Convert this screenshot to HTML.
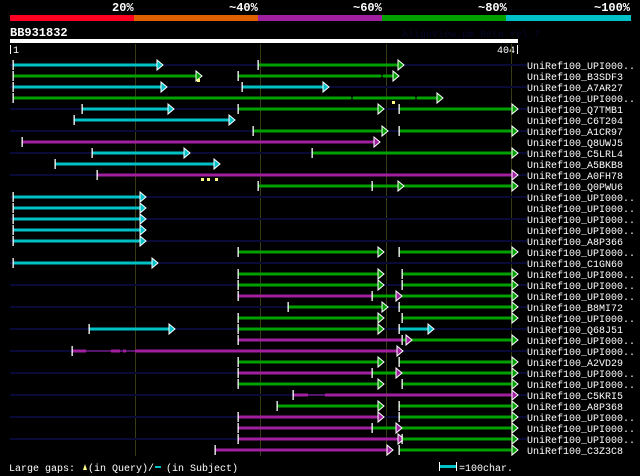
<!DOCTYPE html>
<html><head><meta charset="utf-8"><style>
html,body{margin:0;padding:0;background:#000;width:640px;height:476px;overflow:hidden}
svg{display:block}
text{font-family:"Liberation Mono","DejaVu Sans Mono",monospace}
</style></head><body>
<svg width="640" height="476" viewBox="0 0 640 476">
<defs>
<path id="ar" d="M0,-5L6,0L0,5Z" stroke="#fff" stroke-width="1"/>
<rect id="t" x="-0.5" y="-5" width="1.3" height="10" fill="#fff"/>
<rect id="n" x="10" y="-1" width="517" height="2" fill="#0a0a38"/>
</defs>
<rect width="640" height="476" fill="#000"/>
<g font-size="12" font-weight="bold" fill="#fff">
<text x="112" y="11">20%</text><text x="229" y="11">~40%</text><text x="353" y="11">~60%</text><text x="478" y="11">~80%</text><text x="594" y="11">~100%</text>
</g>
<rect x="10" y="15" width="124" height="6" fill="#ff0020"/>
<rect x="134" y="15" width="124" height="6" fill="#e06000"/>
<rect x="258" y="15" width="124" height="6" fill="#a020a0"/>
<rect x="382" y="15" width="124" height="6" fill="#00a000"/>
<rect x="506" y="15" width="125" height="6" fill="#00c0c8"/>
<text x="10" y="36" font-size="12" font-weight="bold" fill="#fff">BB931832</text>
<text x="402" y="37" font-size="10" fill="#06062a">AlignView.pm Beta rel.7</text>
<rect x="10" y="39" width="508" height="4" fill="#fff"/>
<rect x="10" y="45" width="1" height="9" fill="#fff"/>
<text x="13" y="53" font-size="10" fill="#fff">1</text>
<text x="497" y="53" font-size="10" fill="#fff">404</text>
<rect x="517" y="45" width="1" height="9" fill="#fff"/>
<g fill="#3a3a10"><rect x="135" y="44" width="1" height="412"/><rect x="260" y="44" width="1" height="412"/><rect x="386" y="44" width="1" height="412"/><rect x="511" y="44" width="1" height="412"/></g>

<g transform="translate(0,65)"><use href="#n"/><rect x="13" y="-1.5" width="144" height="3" fill="#00c0c8"/><use href="#t" x="13"/><use href="#ar" x="157" fill="#00c0c8"/><rect x="258" y="-1.5" width="140" height="3" fill="#00a000"/><use href="#t" x="258"/><use href="#ar" x="398" fill="#00a000"/></g>
<g transform="translate(0,76)"><rect x="13" y="-1.5" width="183" height="3" fill="#00a000"/><use href="#t" x="13"/><use href="#ar" x="196" fill="#00a000"/><rect x="197" y="3" width="3" height="3" fill="#ff8"/><rect x="238" y="-1.5" width="143" height="3" fill="#00a000"/><rect x="381" y="-0.5" width="2" height="1" fill="#00a000"/><rect x="383" y="-1.5" width="11" height="3" fill="#00a000"/><use href="#t" x="238"/><use href="#ar" x="393" fill="#00a000"/></g>
<g transform="translate(0,87)"><use href="#n"/><rect x="13" y="-1.5" width="148" height="3" fill="#00c0c8"/><use href="#t" x="13"/><use href="#ar" x="161" fill="#00c0c8"/><rect x="242" y="-1.5" width="81" height="3" fill="#00c0c8"/><use href="#t" x="242"/><use href="#ar" x="323" fill="#00c0c8"/></g>
<g transform="translate(0,98)"><rect x="13" y="-1.5" width="338" height="3" fill="#00a000"/><rect x="351" y="-0.5" width="2" height="1" fill="#00a000"/><rect x="353" y="-1.5" width="62" height="3" fill="#00a000"/><rect x="415" y="-0.5" width="2" height="1" fill="#00a000"/><rect x="417" y="-1.5" width="20" height="3" fill="#00a000"/><use href="#t" x="13"/><use href="#ar" x="437" fill="#00a000"/><rect x="392" y="3" width="3" height="3" fill="#ff8"/></g>
<g transform="translate(0,109)"><use href="#n"/><rect x="82" y="-1.5" width="86" height="3" fill="#00c0c8"/><use href="#t" x="82"/><use href="#ar" x="168" fill="#00c0c8"/><rect x="238" y="-1.5" width="140" height="3" fill="#00a000"/><use href="#t" x="238"/><use href="#ar" x="378" fill="#00a000"/><rect x="399" y="-1.5" width="113" height="3" fill="#00a000"/><use href="#t" x="399"/><use href="#ar" x="512" fill="#00a000"/></g>
<g transform="translate(0,120)"><rect x="74" y="-1.5" width="155" height="3" fill="#00c0c8"/><use href="#t" x="74"/><use href="#ar" x="229" fill="#00c0c8"/></g>
<g transform="translate(0,131)"><use href="#n"/><rect x="253" y="-1.5" width="129" height="3" fill="#00a000"/><use href="#t" x="253"/><use href="#ar" x="382" fill="#00a000"/><rect x="399" y="-1.5" width="113" height="3" fill="#00a000"/><use href="#t" x="399"/><use href="#ar" x="512" fill="#00a000"/></g>
<g transform="translate(0,142)"><rect x="22" y="-1.5" width="352" height="3" fill="#a020a0"/><use href="#t" x="22"/><use href="#ar" x="374" fill="#a020a0"/></g>
<g transform="translate(0,153)"><use href="#n"/><rect x="92" y="-1.5" width="92" height="3" fill="#00c0c8"/><use href="#t" x="92"/><use href="#ar" x="184" fill="#00c0c8"/><rect x="312" y="-1.5" width="200" height="3" fill="#00a000"/><use href="#t" x="312"/><use href="#ar" x="512" fill="#00a000"/></g>
<g transform="translate(0,164)"><rect x="55" y="-1.5" width="159" height="3" fill="#00c0c8"/><use href="#t" x="55"/><use href="#ar" x="214" fill="#00c0c8"/></g>
<g transform="translate(0,175)"><use href="#n"/><rect x="97" y="-1.5" width="415" height="3" fill="#a020a0"/><use href="#t" x="97"/><use href="#ar" x="512" fill="#a020a0"/><g fill="#ff8"><rect x="201" y="3" width="3" height="3"/><rect x="207" y="3" width="3" height="3"/><rect x="215" y="3" width="3" height="3"/></g></g>
<g transform="translate(0,186)"><rect x="258" y="-1.5" width="254" height="3" fill="#00a000"/><use href="#t" x="258"/><use href="#t" x="372"/><use href="#ar" x="398" fill="#00a000"/><use href="#ar" x="512" fill="#00a000"/></g>
<g transform="translate(0,197)"><use href="#n"/><rect x="13" y="-1.5" width="127" height="3" fill="#00c0c8"/><use href="#t" x="13"/><use href="#ar" x="140" fill="#00c0c8"/></g>
<g transform="translate(0,208)"><rect x="13" y="-1.5" width="127" height="3" fill="#00c0c8"/><use href="#t" x="13"/><use href="#ar" x="140" fill="#00c0c8"/></g>
<g transform="translate(0,219)"><use href="#n"/><rect x="13" y="-1.5" width="127" height="3" fill="#00c0c8"/><use href="#t" x="13"/><use href="#ar" x="140" fill="#00c0c8"/></g>
<g transform="translate(0,230)"><rect x="13" y="-1.5" width="127" height="3" fill="#00c0c8"/><use href="#t" x="13"/><use href="#ar" x="140" fill="#00c0c8"/></g>
<g transform="translate(0,241)"><use href="#n"/><rect x="13" y="-1.5" width="127" height="3" fill="#00c0c8"/><use href="#t" x="13"/><use href="#ar" x="140" fill="#00c0c8"/></g>
<g transform="translate(0,252)"><rect x="238" y="-1.5" width="140" height="3" fill="#00a000"/><use href="#t" x="238"/><use href="#ar" x="378" fill="#00a000"/><rect x="399" y="-1.5" width="113" height="3" fill="#00a000"/><use href="#t" x="399"/><use href="#ar" x="512" fill="#00a000"/></g>
<g transform="translate(0,263)"><use href="#n"/><rect x="13" y="-1.5" width="139" height="3" fill="#00c0c8"/><use href="#t" x="13"/><use href="#ar" x="152" fill="#00c0c8"/></g>
<g transform="translate(0,274)"><rect x="238" y="-1.5" width="140" height="3" fill="#00a000"/><use href="#t" x="238"/><use href="#ar" x="378" fill="#00a000"/><rect x="402" y="-1.5" width="110" height="3" fill="#00a000"/><use href="#t" x="402"/><use href="#ar" x="512" fill="#00a000"/></g>
<g transform="translate(0,285)"><use href="#n"/><rect x="238" y="-1.5" width="140" height="3" fill="#00a000"/><use href="#t" x="238"/><use href="#ar" x="378" fill="#00a000"/><rect x="402" y="-1.5" width="110" height="3" fill="#00a000"/><use href="#t" x="402"/><use href="#ar" x="512" fill="#00a000"/></g>
<g transform="translate(0,296)"><rect x="238" y="-1.5" width="134" height="3" fill="#a020a0"/><use href="#t" x="238"/><rect x="372" y="-1.5" width="140" height="3" fill="#00a000"/><use href="#t" x="372"/><use href="#ar" x="396" fill="#a020a0"/><use href="#ar" x="512" fill="#00a000"/></g>
<g transform="translate(0,307)"><use href="#n"/><rect x="288" y="-1.5" width="94" height="3" fill="#00a000"/><use href="#t" x="288"/><use href="#ar" x="382" fill="#00a000"/><rect x="399" y="-1.5" width="113" height="3" fill="#00a000"/><use href="#t" x="399"/><use href="#ar" x="512" fill="#00a000"/></g>
<g transform="translate(0,318)"><rect x="238" y="-1.5" width="140" height="3" fill="#00a000"/><use href="#t" x="238"/><use href="#ar" x="378" fill="#00a000"/><rect x="402" y="-1.5" width="110" height="3" fill="#00a000"/><use href="#t" x="402"/><use href="#ar" x="512" fill="#00a000"/></g>
<g transform="translate(0,329)"><use href="#n"/><rect x="89" y="-1.5" width="80" height="3" fill="#00c0c8"/><use href="#t" x="89"/><use href="#ar" x="169" fill="#00c0c8"/><rect x="238" y="-1.5" width="140" height="3" fill="#00a000"/><use href="#t" x="238"/><use href="#ar" x="378" fill="#00a000"/><rect x="399" y="-1.5" width="29" height="3" fill="#00c0c8"/><use href="#t" x="399"/><use href="#ar" x="428" fill="#00c0c8"/></g>
<g transform="translate(0,340)"><rect x="238" y="-1.5" width="164" height="3" fill="#a020a0"/><use href="#t" x="238"/><rect x="403" y="-1.5" width="109" height="3" fill="#00a000"/><use href="#t" x="402"/><use href="#ar" x="406" fill="#a020a0"/><use href="#ar" x="512" fill="#00a000"/></g>
<g transform="translate(0,351)"><use href="#n"/><rect x="72" y="-0.5" width="325" height="1" fill="#a020a0"/><rect x="72" y="-1.5" width="14" height="3" fill="#a020a0"/><rect x="111" y="-1.5" width="9" height="3" fill="#a020a0"/><rect x="123" y="-1.5" width="3" height="3" fill="#a020a0"/><rect x="135" y="-1.5" width="262" height="3" fill="#a020a0"/><use href="#t" x="72"/><use href="#ar" x="397" fill="#a020a0"/></g>
<g transform="translate(0,362)"><rect x="238" y="-1.5" width="140" height="3" fill="#00a000"/><use href="#t" x="238"/><use href="#ar" x="378" fill="#00a000"/><rect x="399" y="-1.5" width="113" height="3" fill="#00a000"/><use href="#t" x="399"/><use href="#ar" x="512" fill="#00a000"/></g>
<g transform="translate(0,373)"><use href="#n"/><rect x="238" y="-1.5" width="134" height="3" fill="#a020a0"/><use href="#t" x="238"/><rect x="372" y="-1.5" width="140" height="3" fill="#00a000"/><use href="#t" x="372"/><use href="#ar" x="396" fill="#a020a0"/><use href="#ar" x="512" fill="#00a000"/></g>
<g transform="translate(0,384)"><rect x="238" y="-1.5" width="140" height="3" fill="#00a000"/><use href="#t" x="238"/><use href="#ar" x="378" fill="#00a000"/><rect x="402" y="-1.5" width="110" height="3" fill="#00a000"/><use href="#t" x="402"/><use href="#ar" x="512" fill="#00a000"/></g>
<g transform="translate(0,395)"><use href="#n"/><rect x="293" y="-0.5" width="219" height="1" fill="#a020a0"/><rect x="293" y="-1.5" width="15" height="3" fill="#a020a0"/><rect x="325" y="-1.5" width="187" height="3" fill="#a020a0"/><use href="#t" x="293"/><use href="#ar" x="512" fill="#a020a0"/></g>
<g transform="translate(0,406)"><rect x="277" y="-1.5" width="101" height="3" fill="#00a000"/><use href="#t" x="277"/><use href="#ar" x="378" fill="#00a000"/><rect x="399" y="-1.5" width="113" height="3" fill="#00a000"/><use href="#t" x="399"/><use href="#ar" x="512" fill="#00a000"/></g>
<g transform="translate(0,417)"><use href="#n"/><rect x="238" y="-1.5" width="140" height="3" fill="#a020a0"/><use href="#t" x="238"/><use href="#ar" x="378" fill="#a020a0"/><rect x="399" y="-1.5" width="113" height="3" fill="#00a000"/><use href="#t" x="399"/><use href="#ar" x="512" fill="#00a000"/></g>
<g transform="translate(0,428)"><rect x="238" y="-1.5" width="134" height="3" fill="#a020a0"/><use href="#t" x="238"/><rect x="372" y="-1.5" width="140" height="3" fill="#00a000"/><use href="#t" x="372"/><use href="#ar" x="396" fill="#a020a0"/><use href="#ar" x="512" fill="#00a000"/></g>
<g transform="translate(0,439)"><use href="#n"/><rect x="238" y="-1.5" width="160" height="3" fill="#a020a0"/><use href="#t" x="238"/><use href="#ar" x="398" fill="#a020a0"/><rect x="402" y="-1.5" width="110" height="3" fill="#00a000"/><use href="#t" x="402"/><use href="#ar" x="512" fill="#00a000"/></g>
<g transform="translate(0,450)"><rect x="215" y="-1.5" width="13" height="3" fill="#a020a0"/><rect x="228" y="-1.5" width="159" height="3" fill="#a020a0"/><use href="#t" x="215"/><use href="#ar" x="387" fill="#a020a0"/><rect x="399" y="-1.5" width="113" height="3" fill="#00a000"/><use href="#t" x="399"/><use href="#ar" x="512" fill="#00a000"/></g>

<g font-size="10" fill="#fff">
<text x="527" y="69">UniRef100_UPI000..</text>
<text x="527" y="80">UniRef100_B3SDF3</text>
<text x="527" y="91">UniRef100_A7AR27</text>
<text x="527" y="102">UniRef100_UPI000..</text>
<text x="527" y="113">UniRef100_Q7TMB1</text>
<text x="527" y="124">UniRef100_C6T204</text>
<text x="527" y="135">UniRef100_A1CR97</text>
<text x="527" y="146">UniRef100_Q8UWJ5</text>
<text x="527" y="157">UniRef100_C5LRL4</text>
<text x="527" y="168">UniRef100_A5BKB8</text>
<text x="527" y="179">UniRef100_A0FH78</text>
<text x="527" y="190">UniRef100_Q0PWU6</text>
<text x="527" y="201">UniRef100_UPI000..</text>
<text x="527" y="212">UniRef100_UPI000..</text>
<text x="527" y="223">UniRef100_UPI000..</text>
<text x="527" y="234">UniRef100_UPI000..</text>
<text x="527" y="245">UniRef100_A8P366</text>
<text x="527" y="256">UniRef100_UPI000..</text>
<text x="527" y="267">UniRef100_C1GN60</text>
<text x="527" y="278">UniRef100_UPI000..</text>
<text x="527" y="289">UniRef100_UPI000..</text>
<text x="527" y="300">UniRef100_UPI000..</text>
<text x="527" y="311">UniRef100_B8MI72</text>
<text x="527" y="322">UniRef100_UPI000..</text>
<text x="527" y="333">UniRef100_Q68J51</text>
<text x="527" y="344">UniRef100_UPI000..</text>
<text x="527" y="355">UniRef100_UPI000..</text>
<text x="527" y="366">UniRef100_A2VD29</text>
<text x="527" y="377">UniRef100_UPI000..</text>
<text x="527" y="388">UniRef100_UPI000..</text>
<text x="527" y="399">UniRef100_C5KRI5</text>
<text x="527" y="410">UniRef100_A8P368</text>
<text x="527" y="421">UniRef100_UPI000..</text>
<text x="527" y="432">UniRef100_UPI000..</text>
<text x="527" y="443">UniRef100_UPI000..</text>
<text x="527" y="454">UniRef100_C3Z3C8</text>
</g>
<g font-size="10" fill="#fff">
<text x="9" y="471">Large gaps:</text>
<path d="M83,470 L85,464 L87,470Z" fill="#ff8"/>
<text x="88" y="471">(in Query)/</text>
<rect x="155" y="466" width="6" height="2" fill="#00c0c8"/>
<text x="166" y="471">(in Subject)</text>
<rect x="439" y="462" width="1" height="9" fill="#fff"/>
<rect x="440" y="465" width="16" height="3" fill="#00c0c8"/>
<rect x="456" y="462" width="1" height="9" fill="#fff"/>
<text x="459" y="471">=100char.</text>
</g>
</svg>
</body></html>
